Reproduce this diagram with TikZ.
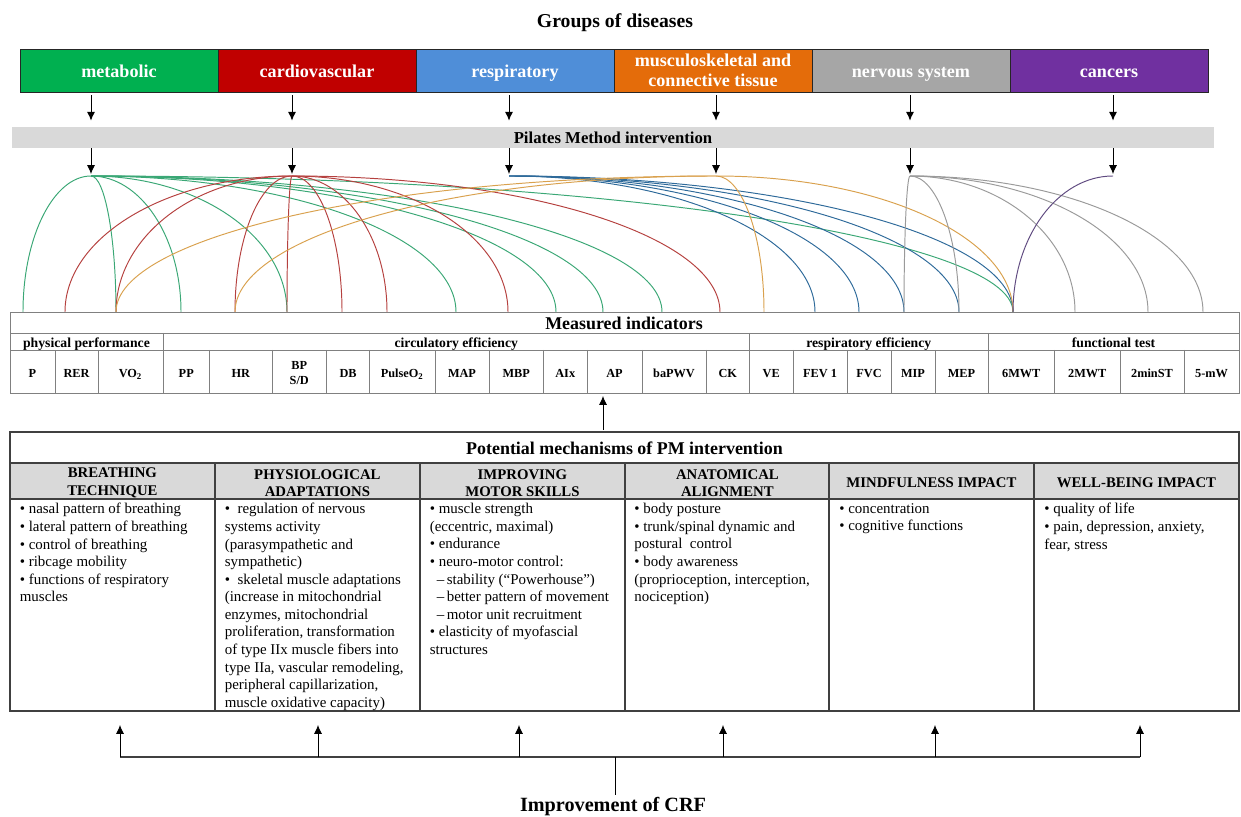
\documentclass[tikz,border=0pt]{standalone}
\usepackage{fontspec}
\setmainfont{Liberation Serif}
\usepackage{tikz}
\usetikzlibrary{arrows.meta, calc}

\definecolor{metgreen}{HTML}{00B050}
\definecolor{carred}{HTML}{C00000}
\definecolor{resblue}{HTML}{4F8ED8}
\definecolor{musorange}{HTML}{E46C0A}
\definecolor{nergray}{HTML}{A6A6A6}
\definecolor{canpurple}{HTML}{7030A0}
\definecolor{bargray}{HTML}{D9D9D9}
\definecolor{linegreen}{HTML}{3AA775}
\definecolor{linered}{HTML}{B5413F}
\definecolor{lineblue}{HTML}{2E6A9A}
\definecolor{lineorange}{HTML}{D9A14E}
\definecolor{linegray}{HTML}{9A9A9A}
\definecolor{linepurple}{HTML}{5F4A80}

\newcommand{\fsz}[2]{\fontsize{#1}{#2}\selectfont}
\newcommand{\twolines}[2]{\begin{tabular}{@{}c@{}}#1\\#2\end{tabular}}
\newcommand{\quarterarc}[3]{%
  \draw[link=#3] (#1) .. controls ($(#1)!0.552!(#1-|#2)$) and ($(#2)!0.552!(#2|-#1)$) .. (#2);}

\tikzset{
  disease/.style={draw=black!85, line width=0.5pt, fill=#1, text=white,
    minimum width=39.6mm, minimum height=8.6mm, inner sep=0pt,
    text height=8.5pt, text depth=0.8pt, font=\fsz{10.3}{11.3}\bfseries},
  link/.style={draw=#1, line width=0.55pt},
  down/.style={-{Latex[length=5pt,width=4.6pt]}, line width=0.55pt},
  grp/.style={inner sep=0pt, text height=7.2pt, text depth=0.2pt, font=\fsz{7.8}{9}\bfseries},
  ind/.style={inner sep=0pt, text height=6.8pt, text depth=0.2pt, font=\fsz{7}{8.1}\bfseries},
  head/.style={inner sep=0pt, align=center, font=\fsz{8.4}{10}\bfseries},
  body/.style={anchor=north west, inner sep=0pt, align=left, font=\fsz{8.5}{10}},
  ttl/.style={inner sep=0pt, font=\fsz{10.2}{12}\bfseries},
  itab/.style={draw=black!50, line width=0.55pt},
  mtab/.style={draw=black!75, line width=0.75pt}
}

\begin{document}
\begin{tikzpicture}[x=0.2mm, y=-0.2mm]
  \useasboundingbox (0,0) rectangle (1241,817);

  % groups of diseases
  \node[ttl, font=\fsz{11.2}{13}\bfseries] (groups) at (615,22.5) {Groups of diseases};
  \foreach \n/\c/\t [count=\i] in {met/metgreen/metabolic, car/carred/cardiovascular,
      res/resblue/respiratory, mus/musorange/{\twolines{musculoskeletal and}{connective tissue}},
      ner/nergray/nervous system, can/canpurple/cancers}
    \node[disease=\c] (\n) at ({119+198*(\i-1)},70.5) {\t};

  \node[fill=bargray, minimum width=240.4mm, minimum height=4.2mm, inner sep=0pt,
    font=\fsz{9.5}{11}\bfseries] (bar) at (613,137.5) {Pilates Method intervention};

  % where the links start
  \coordinate (pmet) at (91,176);
  \coordinate (pcar) at (292,176);
  \coordinate (pres) at (509,176);
  \coordinate (pmus) at (716,176);
  \coordinate (pner) at (910,176);
  \coordinate (pcan) at (1113,176);

  \foreach \n in {met,car,res,mus,ner,can} {
    \draw[down] ($(\n.south -| p\n)+(0,3)$) -- ($(bar.north -| p\n)+(0,-6)$);
    \draw[down] (bar.south -| p\n) -- ($(p\n)+(0,-2)$);
  }

  % links disease -> indicator
  \foreach \x in {23,116,181,287,456,556,603,662,1013} {
    \coordinate (e\x) at (\x,312); \quarterarc{pmet}{e\x}{linegreen}}
  \foreach \x in {65,116,235,287,342,387,508,720} {
    \coordinate (e\x) at (\x,312); \quarterarc{pcar}{e\x}{linered}}
  \foreach \x in {815,859,904,959,1013} {
    \coordinate (e\x) at (\x,312); \quarterarc{pres}{e\x}{lineblue}}
  \foreach \x in {116,235,764,1013} {
    \coordinate (e\x) at (\x,312); \quarterarc{pmus}{e\x}{lineorange}}
  \foreach \x in {904,959,1075,1148,1203} {
    \coordinate (e\x) at (\x,312); \quarterarc{pner}{e\x}{linegray}}
  \coordinate (e1013) at (1013,312); \quarterarc{pcan}{e1013}{linepurple}

  % measured indicators
  \draw[itab] (10,312) rectangle (1239,393);
  \draw[itab] (10,333) -- (1239,333);
  \draw[itab] (10,350) -- (1239,350);
  \node[ttl] (meas) at (624,323.5) {Measured indicators};
  \foreach \a/\b/\t [count=\i] in {10/163/physical performance, 163/749.5/circulatory efficiency,
      749.5/988/respiratory efficiency, 988/1239/functional test} {
    \draw[itab] (\a,333) -- (\a,393);
    \node[grp] (g\i) at ({(\a+\b)/2},341.5) {\t};
  }
  \foreach \a/\b/\t [count=\i] in {10/55/P, 55/98/RER, 98/163/VO\textsubscript{2}, 163/209.5/PP,
      209.5/272/HR, 272/326.5/{\twolines{BP}{S/D}}, 326.5/369.6/DB, 369.6/435/PulseO\textsubscript{2},
      435/489/MAP, 489/543.5/MBP, 543.5/587/AIx, 587/642/AP, 642/706/baPWV, 706/749.5/CK,
      749.5/793/VE, 793/847/FEV 1, 847/891/FVC, 891/935/MIP, 935/988/MEP, 988/1054.5/6MWT,
      1054.5/1120/2MWT, 1120/1184/2minST, 1184/1239/5-mW} {
    \draw[itab] (\a,350) -- (\a,393);
    \node[ind] (ind\i) at ({(\a+\b)/2},371.5) {\t};
  }

  \coordinate (mup) at (603,430);
  \coordinate (iup) at (603,396);
  \draw[down] (mup) -- (iup);

  % potential mechanisms
  \fill[bargray] (10,463) rectangle (1239,499);
  \draw[mtab] (10,432) rectangle (1239,711);
  \draw[mtab] (10,463) -- (1239,463);
  \draw[mtab] (10,499) -- (1239,499);
  \node[ttl] (pot) at (624.5,448.5) {Potential mechanisms of PM intervention};
  \foreach \a/\t [count=\i] in {10/{BREATHING\\TECHNIQUE}, 215/{PHYSIOLOGICAL\\ADAPTATIONS},
      420/{IMPROVING\\MOTOR SKILLS}, 625/{ANATOMICAL\\ALIGNMENT}, 829/MINDFULNESS IMPACT,
      1034/WELL-BEING IMPACT} {
    \draw[mtab] (\a,463) -- (\a,711);
    \node[head] (h\i) at ({\a+102.4},483) {\t};
  }

  \node[body] (b1) at (19.5,503) {• nasal pattern of breathing\\• lateral pattern of breathing\\
    • control of breathing\\• ribcage mobility\\• functions of respiratory\\muscles};
  \node[body] (b2) at (224.5,503) {•~ regulation of nervous\\systems activity\\
    (parasympathetic and\\sympathetic)\\•~ skeletal muscle adaptations\\
    (increase in mitochondrial\\enzymes, mitochondrial\\proliferation, transformation\\
    of type IIx muscle fibers into\\type IIa, vascular remodeling,\\
    peripheral capillarization,\\muscle oxidative capacity)};
  \node[body] (b3) at (429.5,503) {• muscle strength\\(eccentric, maximal)\\• endurance\\
    • neuro-motor control:\\\hspace*{4pt}–\,stability (“Powerhouse”)\\
    \hspace*{4pt}–\,better pattern of movement\\\hspace*{4pt}–\,motor unit recruitment\\
    • elasticity of myofascial\\structures};
  \node[body] (b4) at (634,503) {• body posture\\• trunk/spinal dynamic and\\
    postural~ control\\• body awareness\\(proprioception, interception,\\nociception)};
  \node[body] (b5) at (839,503) {• concentration\\• cognitive functions};
  \node[body] (b6) at (1044,503) {• quality of life\\• pain, depression, anxiety,\\fear, stress};

  % improvement of CRF
  \node[ttl, font=\fsz{11.5}{13}\bfseries] (crf) at (613,807) {Improvement of CRF};
  \coordinate (bl) at (120,757);
  \coordinate (br) at (1140,757);
  \coordinate (jn) at (615,757);
  \draw[mtab] (bl) -- (br);
  \foreach \x in {120,318,519,723,935,1140}
    \draw[down] (\x,757) -- (\x,725);
  \draw[line width=0.55pt, shorten >=1.5pt] (jn) -- (crf.north -| jn);

\end{tikzpicture}
\end{document}
